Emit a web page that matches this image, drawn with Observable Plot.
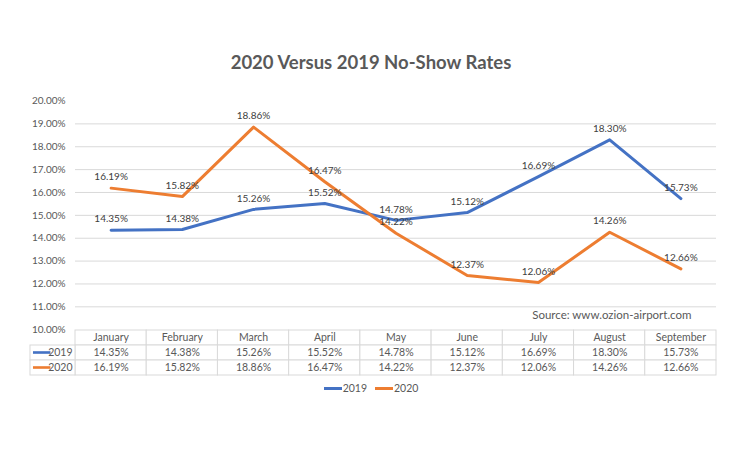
<!DOCTYPE html>
<html>
<head>
<meta charset="utf-8">
<script src="https://cdn.jsdelivr.net/npm/d3@7"></script>
<script src="https://cdn.jsdelivr.net/npm/@observablehq/plot@0.6"></script>
<style>
  html, body { margin: 0; padding: 0; background: #fff; }
  #wrap { position: relative; width: 750px; height: 450px; overflow: hidden; font-family: Lato, "Noto Sans", sans-serif; color: #595959; }
  #title { position: absolute; top: 50px; left: 0; width: 742px; text-align: center; font-size: 18.5px; font-weight: bold; color: #595959; line-height: 24px; }
  #main { position: absolute; top: 90px; left: 0; }
  #table { position: absolute; top: 329px; left: 0; }
  #legend { position: absolute; top: 380px; left: 0; width: 742px; display: flex; justify-content: center; gap: 8px; font-size: 10.5px; line-height: 16px; }
  .item { display: flex; align-items: center; }
  .key { display: inline-block; width: 18px; height: 3px; margin-right: 1px; }
</style>
</head>
<body>
<div id="wrap">
  <div id="title">2020 Versus 2019 No-Show Rates</div>
  <div id="main"></div>
  <div id="table"></div>
  <div id="legend"></div>
</div>
<script>
const months = ["January", "February", "March", "April", "May", "June", "July", "August", "September"];
const rate2019 = [14.35, 14.38, 15.26, 15.52, 14.78, 15.12, 16.69, 18.30, 15.73];
const rate2020 = [16.19, 15.82, 18.86, 16.47, 14.22, 12.37, 12.06, 14.26, 12.66];
const seriesNames = ["2019", "2020"];
const seriesColors = ["#4472C4", "#ED7D31"];
const yTicks = [10, 11, 12, 13, 14, 15, 16, 17, 18, 19, 20];
const gridTicks = [11, 12, 13, 14, 15, 16, 17, 18, 19];
const sourceText = "Source: www.ozion-airport.com";

const fmt = v => v.toFixed(2) + "%";
const rows = [];
[rate2019, rate2020].forEach((arr, s) => {
  arr.forEach((v, i) => rows.push({series: seriesNames[s], month: months[i], idx: i, value: v}));
});

const W = 750, ML = 75, MR = 34;
const textColor = "#595959";
const gridColor = "#d9d9d9";
const font = "Lato, 'Noto Sans', sans-serif";

const main = Plot.plot({
  width: W,
  height: 246,
  marginLeft: ML,
  marginRight: MR,
  marginTop: 10.5,
  marginBottom: 6.8,
  style: {fontFamily: font, color: textColor, background: "transparent", overflow: "visible"},
  x: {domain: [0, months.length], axis: null},
  y: {domain: [10, 20], ticks: yTicks, tickFormat: fmt, tickSize: 0, tickPadding: 10, label: null, fontSize: 10},
  color: {domain: seriesNames, range: seriesColors},
  marks: [
    Plot.ruleY(gridTicks, {stroke: gridColor, strokeWidth: 1}),
    Plot.axisY({ticks: yTicks, tickFormat: fmt, tickSize: 0, tickPadding: 10, label: null, fontSize: 10, fill: textColor}),
    Plot.line(rows, {x: d => d.idx + 0.5, y: "value", z: "series", stroke: "series", strokeWidth: 3, strokeLinejoin: "round", strokeLinecap: "round"}),
    Plot.text(rows, {x: d => d.idx + 0.5, y: "value", text: d => fmt(d.value), dy: -11, fill: "#404040", fontSize: 10}),
    Plot.text([sourceText], {frameAnchor: "bottom-right", text: d => d, textAnchor: "end", dx: -25, dy: -11, fill: textColor, fontSize: 11.5})
  ]
});
document.getElementById("main").appendChild(main);

// Data table below the chart, aligned to the same x layout
const labelColWidth = -0.632;
const cells = [];
months.forEach((m, i) => cells.push({row: "h", idx: i, text: m}));
rows.forEach(d => cells.push({row: d.series, idx: d.idx, text: fmt(d.value)}));

const table = Plot.plot({
  width: W,
  height: 48,
  marginLeft: ML,
  marginRight: MR,
  marginTop: 0.5,
  marginBottom: 1.5,
  style: {fontFamily: font, color: textColor, background: "transparent", overflow: "visible"},
  x: {domain: [0, months.length], axis: null},
  y: {domain: ["h", ...seriesNames], axis: null, padding: 0},
  marks: [
    Plot.barX(cells, {x1: "idx", x2: d => d.idx + 1, y: "row", fill: "white", stroke: gridColor, strokeWidth: 1}),
    Plot.barX(seriesNames, {x1: labelColWidth, x2: 0, y: d => d, fill: "white", stroke: gridColor, strokeWidth: 1}),
    Plot.barX(seriesNames, {x1: -0.59, x2: -0.345, y: d => d, fill: (d, i) => seriesColors[i], insetTop: 6.2, insetBottom: 6.2}),
    Plot.text(seriesNames, {x: 0, y: d => d, text: d => d, textAnchor: "end", dx: -3, fill: textColor, fontSize: 10.5}),
    Plot.text(cells, {x: d => d.idx + 0.5, y: "row", text: "text", fill: textColor, fontSize: 10.5})
  ]
});
document.getElementById("table").appendChild(table);

// Legend
const legend = document.getElementById("legend");
seriesNames.forEach((s, i) => {
  const item = document.createElement("div");
  item.className = "item";
  const key = document.createElement("span");
  key.className = "key";
  key.style.background = seriesColors[i];
  item.appendChild(key);
  item.appendChild(document.createTextNode(s));
  legend.appendChild(item);
});
</script>
</body>
</html>
